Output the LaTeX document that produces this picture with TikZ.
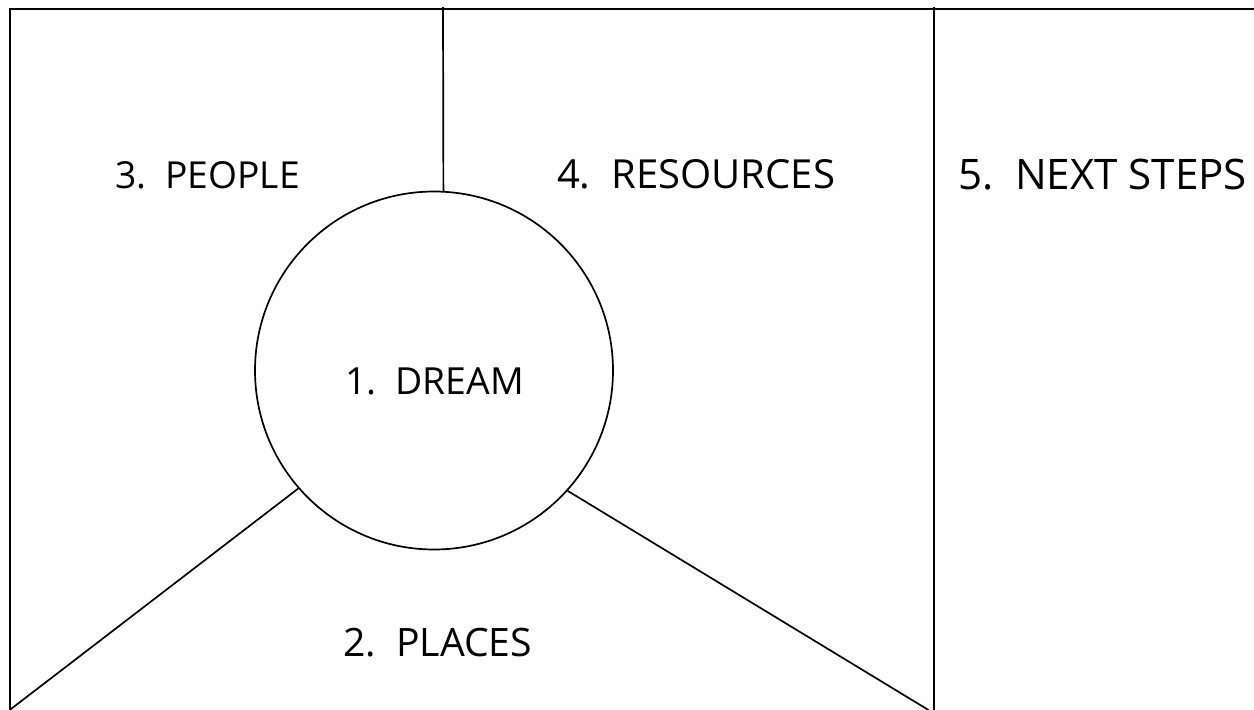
\documentclass[tikz,border=0pt]{standalone}
\usepackage{fontspec}
\setmainfont{Open Sans}
\begin{document}
\begin{tikzpicture}[x=1pt,y=-1pt,
  frame/.style={line width=2pt,black},
  thin/.style={line width=1.7pt,black},
  lbl/.style={anchor=base west,inner sep=0pt,outer sep=0pt,font=\fontsize{37}{40}\selectfont},
  dreamcircle/.style={circle,draw,line width=1.7pt,minimum size=358pt,inner sep=0pt}]
\useasboundingbox (0,0) rectangle (1254,710);
\clip (0,0) rectangle (1254,710);
% outer frame
\coordinate (bl) at (10.3,720);
\coordinate (tl) at (10.3,9.3);
\coordinate (tr) at (1270,9.3);
\draw[frame] (bl) -- (tl) -- (tr);
% divider
\coordinate (dtop) at (933.5,7.3);
\coordinate (dbot) at (933.5,720);
\draw[frame] (dtop) -- (dbot);
% circle
\node[dreamcircle] (dream) at (434,370.5) {};
\coordinate (vtop) at (443,7);
\draw[thin] (vtop) -- (dream.87.1);
\coordinate (llend) at (10.3,709.5);
\coordinate (lrend) at (928.5,710);
\draw[thin] (dream.221) -- (llend);
\draw[thin] (dream.318) -- (lrend);
% labels
\node[lbl] (people) at (115,188.3) {\resizebox{185pt}{!}{3.\ \ PEOPLE}};
\node[lbl] (resources) at (557,188.3) {\resizebox{278pt}{!}{4.\ \ RESOURCES}};
\node[lbl] (next) at (958,189) {\resizebox{289pt}{!}{5.\ \ NEXT STEPS}};
\node[lbl] (dreamlbl) at (345,394) {\resizebox{179pt}{!}{1.\ \ DREAM}};
\node[lbl] (places) at (343,656.7) {\resizebox{189pt}{!}{2.\ \ PLACES}};
\end{tikzpicture}
\end{document}
